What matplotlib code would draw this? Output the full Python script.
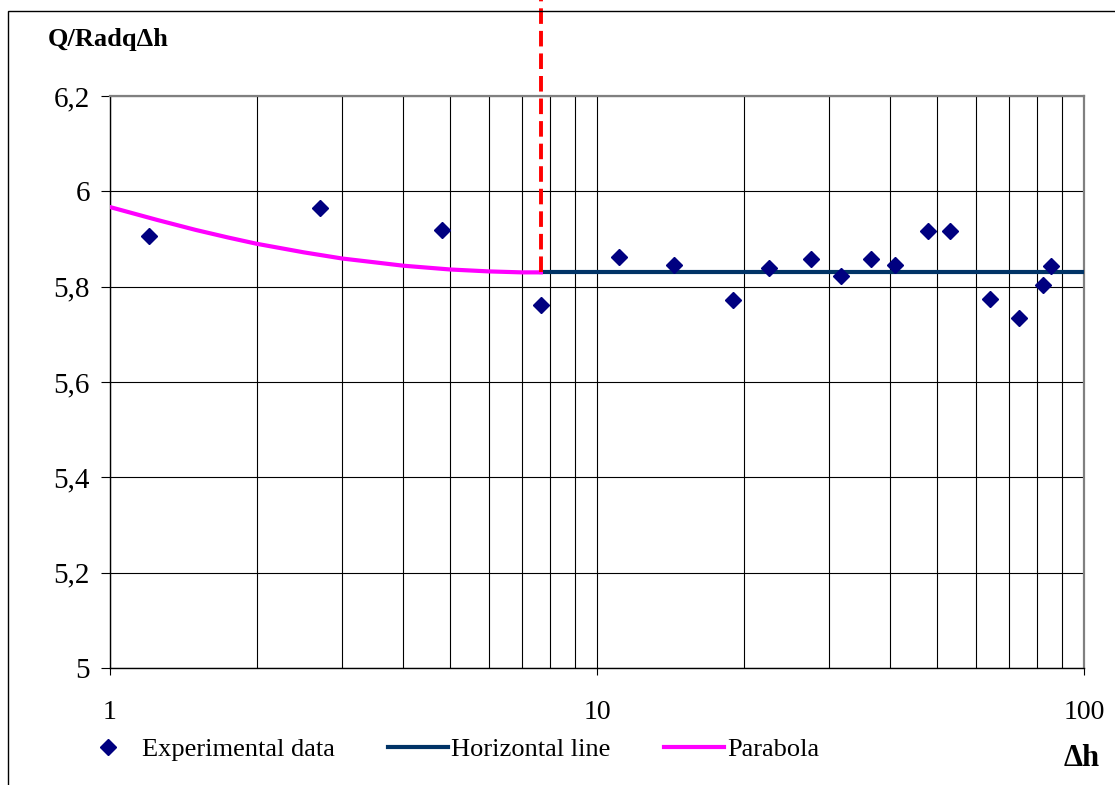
import matplotlib
matplotlib.use('Agg')
from matplotlib import pyplot as plt
from matplotlib.ticker import FixedLocator, LogLocator, NullFormatter, FuncFormatter
from matplotlib.lines import Line2D
from matplotlib.patches import Rectangle

# *************************** DATA ***************************

# experimental points (delta h, Q/Radq delta h)
dh_exp = [1.2, 2.7, 4.81, 7.67, 11.1, 14.4, 19.0, 22.5, 27.5, 31.7,
          36.5, 40.9, 47.8, 53.1, 64.1, 73.6, 82.4, 85.5]
q_exp = [5.906, 5.965, 5.919, 5.761, 5.862, 5.845, 5.772, 5.839, 5.858, 5.822,
         5.858, 5.845, 5.917, 5.917, 5.774, 5.734, 5.803, 5.843]

# horizontal line from the break point to the end
dh_horiz = [7.67, 100]
q_horiz = [5.83, 5.83]

# parabola
dh_parab = [1, 1.25, 1.5, 1.75, 2, 2.5, 3, 3.5, 4, 5, 6, 7, 7.67]
q_parab = [5.967, 5.940, 5.919, 5.903, 5.890, 5.872, 5.859, 5.851, 5.844, 5.836, 5.832, 5.830, 5.830]

# break point (red dashed)
dh_break = 7.67
q_break = 5.83

y_ticks = [5, 5.2, 5.4, 5.6, 5.8, 6, 6.2]
x_ticks = [1, 10, 100]

# *************************** PLOT ***************************

plt.rcParams['font.family'] = ['Liberation Serif', 'DejaVu Serif']

fig = plt.figure(figsize=(11.15, 7.85), dpi=100)
ax = fig.add_axes([110 / 1115, 1 - 668 / 785, (1084 - 110) / 1115, (668 - 96) / 785])

ax.set_xscale('log')
ax.set_xlim(1, 100)
ax.set_ylim(5, 6.2)

ax.xaxis.set_major_locator(FixedLocator(x_ticks))
ax.xaxis.set_minor_locator(LogLocator(base=10, subs=range(2, 10)))
ax.xaxis.set_minor_formatter(NullFormatter())
ax.xaxis.set_major_formatter(FuncFormatter(lambda v, p: '%g' % v))
ax.yaxis.set_major_locator(FixedLocator(y_ticks))
ax.yaxis.set_major_formatter(FuncFormatter(lambda v, p: ('%g' % round(v, 1)).replace('.', ',')))

ax.grid(True, which='both', axis='x', color='black', linewidth=0.8)
ax.grid(True, which='major', axis='y', color='black', linewidth=0.8)
ax.set_axisbelow(True)

ax.tick_params(axis='y', which='major', direction='out', length=6.5, width=0.8, labelsize=21, pad=8)
ax.tick_params(axis='x', which='major', direction='out', length=5, width=0.8, labelsize=20, pad=18)
ax.tick_params(axis='x', which='minor', length=0)

for s in ['left', 'bottom']:
    ax.spines[s].set_color('black')
    ax.spines[s].set_linewidth(1)
for s in ['top', 'right']:
    ax.spines[s].set_color('#808080')
    ax.spines[s].set_linewidth(1.6)

ax.plot(dh_horiz, q_horiz, color='#003366', linewidth=3, zorder=3, label='Horizontal line')
ax.plot(dh_parab, q_parab, color='#FF00FF', linewidth=3, zorder=3, label='Parabola')
ax.plot([dh_break, dh_break], [q_break, 6.45], color='#FF0000', linewidth=2.8,
        dashes=(4, 1.8), clip_on=False, zorder=4)
ax.plot(dh_exp, q_exp, linestyle='none', marker='D', markersize=8.5,
        color='#000080', zorder=5, label='Experimental data')

# chart area border
fig.patches.append(Rectangle((8 / 1115, -0.1), 1.2, 1.1 - 11 / 785, transform=fig.transFigure,
                             fill=False, edgecolor='black', linewidth=1))

# labels
fig.text(48 / 1115, 1 - 46 / 785, 'Q/Radq\u0394h', fontsize=19, fontweight='bold', va='baseline')
fig.text(1064 / 1115, 1 - 766 / 785, '\u0394h', fontsize=22, fontweight='bold', va='baseline')

handles = [
    Line2D([], [], linestyle='none', marker='D', markersize=8.5, color='#000080'),
    Line2D([], [], color='#003366', linewidth=3),
    Line2D([], [], color='#FF00FF', linewidth=3),
]
labels = ['Experimental data', 'Horizontal line', 'Parabola']
fig.legend(handles, labels, ncol=3, loc='center left', bbox_to_anchor=(78 / 1115, 1 - 749 / 785),
           frameon=False, fontsize=19, handlelength=2.3, handletextpad=0.12,
           columnspacing=2.0, borderpad=0, borderaxespad=0)

fig.savefig('out.png', dpi=100)
